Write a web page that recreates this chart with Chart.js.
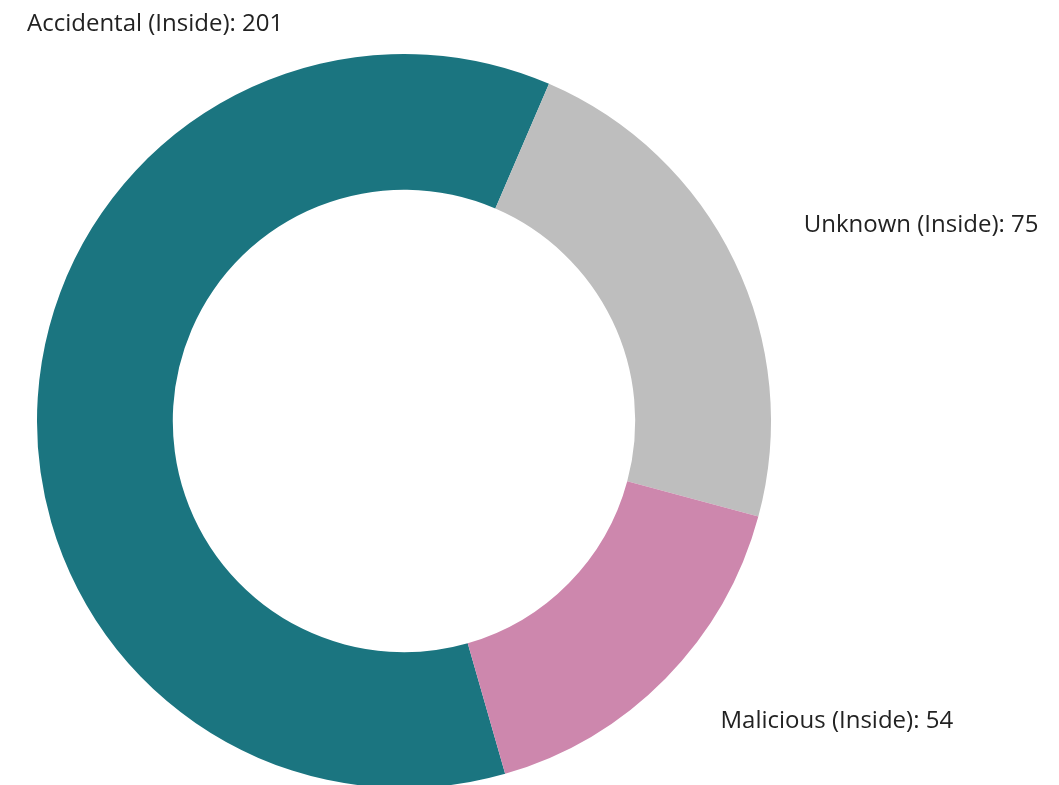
<!DOCTYPE html>
<html>
<head>
<meta charset="utf-8">
<script src="https://cdn.jsdelivr.net/npm/chart.js@4.4.1/dist/chart.umd.min.js"></script>
<style>
  html, body { margin: 0; padding: 0; background: #fff; overflow: hidden; }
  #wrap { position: relative; width: 1059px; height: 800px; }
</style>
</head>
<body>
<div id="wrap"><canvas id="incidentChart"></canvas></div>
<script>
// ---- data ----
const categories = ["Accidental (Inside)", "Unknown (Inside)", "Malicious (Inside)"];
const counts = [201, 75, 54];
const sliceColors = ["#1b7580", "#bebebe", "#cd87ad"];

/**
 * Plugin: draw "Label: value" text outside each slice
 */
const outsideLabels = {
  id: "outsideLabels",
  afterDatasetsDraw(chart) {
    const ctx = chart.ctx;
    const meta = chart.getDatasetMeta(0);
    const area = chart.chartArea;
    ctx.save();
    ctx.font = '24px "Open Sans", "Noto Sans", sans-serif';
    ctx.fillStyle = "#222";
    ctx.textBaseline = "middle";
    ctx.textAlign = "left";
    meta.data.forEach((arc, i) => {
      const text = `${categories[i]}: ${counts[i]}`;
      const { x, y, startAngle, endAngle, outerRadius } = arc.getProps(
        ["x", "y", "startAngle", "endAngle", "outerRadius"], true);
      const mid = (startAngle + endAngle) / 2;
      let tx = x + Math.cos(mid) * outerRadius * 1.21;
      let ty = y + Math.sin(mid) * outerRadius * 1.19 - 6;
      if (tx < area.left) {
        // no room on the left: park the label above the top-left corner
        tx = area.left - 10;
        ty = area.top - 30;
      }
      ctx.fillText(text, tx, ty);
    });
    ctx.restore();
  },
};

new Chart(document.getElementById("incidentChart"), {
  type: "doughnut",
  data: {
    labels: categories,
    datasets: [{
      data: counts,
      backgroundColor: sliceColors,
      borderWidth: 0,
    }],
  },
  options: {
    responsive: true,
    maintainAspectRatio: false,
    animation: false,
    rotation: 164,
    cutout: "63%",
    layout: { padding: { left: 37, right: 288, top: 54, bottom: 12 } },
    plugins: {
      legend: { display: false },
      tooltip: { enabled: false },
    },
  },
  plugins: [outsideLabels],
});
</script>
</body>
</html>
